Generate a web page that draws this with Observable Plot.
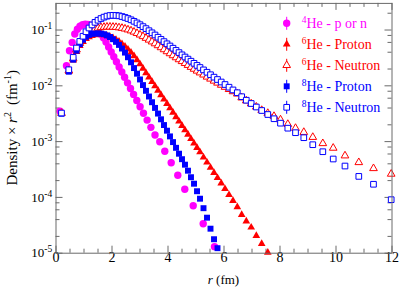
<!DOCTYPE html>
<html><head><meta charset="utf-8">
<script src="https://cdn.jsdelivr.net/npm/d3@7"></script>
<script src="https://cdn.jsdelivr.net/npm/@observablehq/plot@0.6"></script>
<style>
html,body{margin:0;padding:0;background:#fff;}
#chart{width:402px;height:288px;}
</style></head><body><div id="chart"></div>
<script>
// ---- data ----
const r4He = [0.143,0.375,0.482,0.579,0.671,0.764,0.857,0.95,1.043,1.136,1.229,1.321,1.414,1.507,1.6,1.693,1.786,1.879,1.971,2.064,2.157,2.254,2.35,2.45,2.554,2.661,2.771,2.886,3.004,3.125,3.254,3.389,3.536,3.707,3.886,4.114,4.35,4.6,4.9,5.257,5.661];
const y4He = [3.5e-3,0.0229,0.0426,0.060,0.0848,0.1033,0.117,0.1245,0.127,0.126,0.122,0.115,0.106,0.0955,0.0841,0.0725,0.0607,0.0498,0.0405,0.0331,0.027,0.0218,0.0177,0.0142,0.0113,0.00895,0.00702,0.00545,0.00421,0.00323,0.00243,0.0018,0.00131,0.000995,0.000673,0.000419,0.00025,0.00014,7.1e-5,3.38e-5,1.31e-5];

const rGrid = [0.196,0.457,0.614,0.732,0.85,0.964,1.071,1.179,1.286,1.393,1.5,1.607,1.714,1.821,1.929,2.036,2.143,2.25,2.357,2.464,2.571,2.679,2.786,2.893,3.0,3.107,3.214,3.321,3.429,3.536,3.643,3.75,3.857,3.964,4.071,4.179,4.286,4.393,4.5,4.607,4.714,4.821,4.929,5.036,5.143,5.268,5.393,5.518,5.643,5.768,5.9,6.036,6.179,6.321,6.475,6.632,6.796,6.971,7.154,7.346,7.564,7.786,8.018,8.279,8.554,8.85,9.171,9.529,9.9,10.321,10.814,11.339,11.971];

const y6HeProton = [3.16e-3,1.79e-2,2.88e-2,4.09e-2,5.23e-2,6.17e-2,6.93e-2,7.49e-2,7.90e-2,8.14e-2,8.24e-2,8.20e-2,8.10e-2,7.90e-2,7.58e-2,7.19e-2,6.73e-2,6.22e-2,5.66e-2,5.08e-2,4.51e-2,3.95e-2,3.42e-2,2.91e-2,2.45e-2,2.04e-2,1.70e-2,1.42e-2,1.184e-2,9.88e-3,8.24e-3,6.87e-3,5.73e-3,4.78e-3,3.99e-3,3.32e-3,2.77e-3,2.31e-3,1.93e-3,1.61e-3,1.34e-3,1.12e-3,9.32e-4,7.78e-4,6.48e-4,5.23e-4,4.24e-4,3.42e-4,2.77e-4,2.24e-4,1.79e-4,1.42e-4,1.11e-4,8.73e-5,6.73e-5,4.90e-5,3.75e-5,2.90e-5,2.06e-5,1.48e-5,1.03e-5];

const y6HeNeutron = [3.23e-3,1.865e-2,3.06e-2,4.44e-2,5.80e-2,7.13e-2,8.24e-2,9.21e-2,9.92e-2,0.1046,0.1086,0.1113,0.1127,0.1137,0.1137,0.1132,0.1122,0.1104,0.1081,0.1051,0.1013,0.0972,0.0925,0.0873,0.082,0.0768,0.0716,0.0665,0.0617,0.0571,0.0528,0.0486,0.0447,0.0412,0.0379,0.0349,0.0321,0.0296,0.0274,0.0253,0.0234,0.0216,0.02,0.0185,0.01717,0.01574,0.01444,0.0133,0.01224,0.01127,0.01033,0.00948,0.00866,0.0079,0.00719,0.00612,0.00541,0.00478,0.00419,0.00365,0.00323,0.00285,0.00247,0.00205,0.00174,0.001474,0.0012,9.28e-4,7.68e-4,5.59e-4,4.24e-4,3.31e-4,2.63e-4];

const y8HeProton = [3.16e-3,1.79e-2,2.94e-2,4.26e-2,5.57e-2,6.70e-2,7.58e-2,8.17e-2,8.51e-2,8.66e-2,8.69e-2,8.62e-2,8.41e-2,8.00e-2,7.49e-2,6.84e-2,6.14e-2,5.41e-2,4.66e-2,3.94e-2,3.25e-2,2.64e-2,2.08e-2,1.65e-2,1.30e-2,1.03e-2,8.14e-3,6.43e-3,5.08e-3,4.02e-3,3.18e-3,2.51e-3,1.98e-3,1.57e-3,1.24e-3,9.80e-4,7.74e-4,6.07e-4,4.84e-4,3.86e-4,3.01e-4,2.30e-4,1.76e-4,1.29e-4,9.48e-5,6.41e-5,4.33e-5,2.75e-5,1.78e-5,1.23e-5];

const y8HeNeutron = [3.25e-3,1.94e-2,3.23e-2,4.76e-2,6.25e-2,7.74e-2,9.32e-2,0.1086,0.1234,0.1374,0.1498,0.1607,0.1702,0.1774,0.1819,0.1834,0.1826,0.1797,0.1745,0.1681,0.1607,0.1524,0.1432,0.134,0.1245,0.115,0.106,0.0972,0.0891,0.0814,0.0743,0.0679,0.062,0.0566,0.0517,0.0472,0.0431,0.0394,0.0359,0.0328,0.0301,0.0276,0.0253,0.0232,0.0213,0.0193,0.0175,0.0158,0.0143,0.01297,0.0117,0.01055,0.00944,0.00844,0.00752,0.00638,0.00552,0.00482,0.00417,0.00361,0.00306,0.00257,0.00214,0.00174,0.001444,0.001175,8.8e-4,6.59e-4,4.88e-4,3.65e-4,2.38e-4,1.72e-4,9.1e-5];

const xMajor = [0,2,4,6,8,10,12];
const xMinor = [0.5,1,1.5,2.5,3,3.5,4.5,5,5.5,6.5,7,7.5,8.5,9,9.5,10.5,11,11.5];
const yMajor = [1e-5,1e-4,1e-3,1e-2,1e-1];
const yMajorExp = ["-5","-4","-3","-2","-1"];
const yMinor = [2e-5,4e-5,6e-5,8e-5,2e-4,4e-4,6e-4,8e-4,2e-3,4e-3,6e-3,8e-3,2e-2,4e-2,6e-2,8e-2,2e-1];

const legendSup = ["4","6","6","8","8"];
const legendText = ["He - p or n","He - Proton","He - Neutron","He - Proton","He - Neutron"];

// ---- colours / styles ----
const FONT = "'Liberation Serif','Times New Roman',serif";
const MAG = "#ff00ff", RED = "#ff0000", BLUE = "#0000ff", AX = "#6a6a6a";
const W = 402, H = 288, mL = 55.5, mR = 10.5, mT = 2.9, mB = 35.3;
const frameH = H - mT - mB, frameW = W - mL - mR;
const R_CIRC = 3.7, R_TRI = 2.85, R_SQF = 3.35, R_SQO = 3.2;

const rows = (rs, ys) => ys.map((y, i) => ({r: rs[i], y}));
const d4He = rows(r4He, y4He);
const d6P = rows(rGrid, y6HeProton);
const d6N = rows(rGrid, y6HeNeutron);
const d8P = rows(rGrid, y8HeProton);
const d8N = rows(rGrid, y8HeNeutron);

const plot = Plot.plot({
  width: W, height: H,
  marginLeft: mL, marginRight: mR, marginTop: mT, marginBottom: mB,
  style: {fontFamily: FONT, background: "#fff", overflow: "visible"},
  x: {domain: [0, 12], axis: null},
  y: {type: "log", domain: [1e-5, 0.3], axis: null},
  marks: [
    Plot.tickX(xMajor, {x: d => d, stroke: AX, insetTop: frameH - 7}),
    Plot.tickX(xMajor, {x: d => d, stroke: AX, insetBottom: frameH - 7}),
    Plot.tickX(xMinor, {x: d => d, stroke: AX, insetTop: frameH - 4}),
    Plot.tickX(xMinor, {x: d => d, stroke: AX, insetBottom: frameH - 4}),
    Plot.tickY(yMajor, {y: d => d, stroke: AX, insetRight: frameW - 7}),
    Plot.tickY(yMajor, {y: d => d, stroke: AX, insetLeft: frameW - 7}),
    Plot.tickY(yMinor, {y: d => d, stroke: AX, insetRight: frameW - 4}),
    Plot.tickY(yMinor, {y: d => d, stroke: AX, insetLeft: frameW - 4}),
    Plot.text(xMajor, {x: d => d, frameAnchor: "bottom", dy: 8.5, text: d => String(d), fontSize: 14, fill: "#000", fontFamily: FONT}),
    Plot.text(yMajor, {y: d => d, frameAnchor: "left", dx: -3.8, textAnchor: "end", text: (d, i) => "10^" + yMajorExp[i], fontSize: 13, fill: "#000", fontFamily: FONT}),
    Plot.dot(d4He, {x: "r", y: "y", r: R_CIRC, symbol: "circle", fill: MAG}),
    Plot.dot(d6P, {x: "r", y: "y", r: R_TRI, symbol: "triangle", fill: RED}),
    Plot.dot(d6N, {x: "r", y: "y", r: R_TRI, symbol: "triangle", fill: "#fff", stroke: RED, strokeWidth: 1}),
    Plot.dot(d8P, {x: "r", y: "y", r: R_SQF, symbol: "square", fill: BLUE}),
    Plot.dot(d8N, {x: "r", y: "y", r: R_SQO, symbol: "square", fill: "#fff", stroke: BLUE, strokeWidth: 1}),
    Plot.frame({stroke: AX})
  ]
});
document.getElementById("chart").appendChild(plot);

const svg = d3.select(plot);
// superscripts on the y tick labels
svg.selectAll("text").each(function() {
  const t = this.textContent;
  if (t.includes("^")) {
    const [base, exp] = t.split("^");
    this.textContent = base;
    const ts = document.createElementNS("http://www.w3.org/2000/svg", "tspan");
    ts.setAttribute("dy", "-5");
    ts.setAttribute("font-size", "9.5");
    ts.textContent = exp;
    this.appendChild(ts);
  }
});

const xr = plot.scale("x").range, yr = plot.scale("y").range;
const xMid = (xr[0] + xr[1]) / 2, yMid = (yr[0] + yr[1]) / 2;

// x title
const xt = svg.append("text").attr("x", xMid).attr("y", 284).attr("text-anchor", "middle")
  .attr("font-family", FONT).attr("font-size", 13).attr("fill", "#000");
xt.append("tspan").attr("font-style", "italic").text("r");
xt.append("tspan").text(" (fm)");

// y title
const yt = svg.append("text").attr("transform", `translate(17,${yMid}) rotate(-90)`)
  .attr("text-anchor", "middle").attr("font-family", FONT).attr("font-size", 15).attr("fill", "#000");
yt.append("tspan").text("Density \u00d7 ");
yt.append("tspan").attr("font-style", "italic").text("r");
yt.append("tspan").attr("font-size", 10).attr("dy", -6).text("2");
yt.append("tspan").attr("dy", 6).attr("dx", 7).text("(fm");
yt.append("tspan").attr("font-size", 10).attr("dy", -6).text("-1");
yt.append("tspan").attr("dy", 6).text(")");

// legend
const legendColor = [MAG, RED, RED, BLUE, BLUE];
const legendSym = [d3.symbolCircle, d3.symbolTriangle, d3.symbolTriangle, d3.symbolSquare, d3.symbolSquare];
const legendR = [R_CIRC, R_TRI, R_TRI, R_SQF, R_SQO];
const legendFilled = [true, true, false, true, false];
const lg = svg.append("g");
legendText.forEach((label, i) => {
  const cx = 286.7, cy = 23.3 + 21 * i, c = legendColor[i];
  lg.append("line").attr("x1", cx).attr("x2", cx).attr("y1", cy - 6.5).attr("y2", cy + 6.5).attr("stroke", c);
  lg.append("path").attr("transform", `translate(${cx},${cy})`)
    .attr("d", d3.symbol(legendSym[i], Math.PI * legendR[i] * legendR[i])())
    .attr("fill", legendFilled[i] ? c : "#fff").attr("stroke", legendFilled[i] ? "none" : c);
  const t = lg.append("text").attr("x", 301.7).attr("y", cy + 4.8).attr("text-anchor", "start")
    .attr("font-family", FONT).attr("font-size", 14).attr("fill", c);
  t.append("tspan").attr("font-size", 9.5).attr("dy", -5.5).text(legendSup[i]);
  t.append("tspan").attr("dy", 5.5).text(label);
});
</script>
</body></html>
